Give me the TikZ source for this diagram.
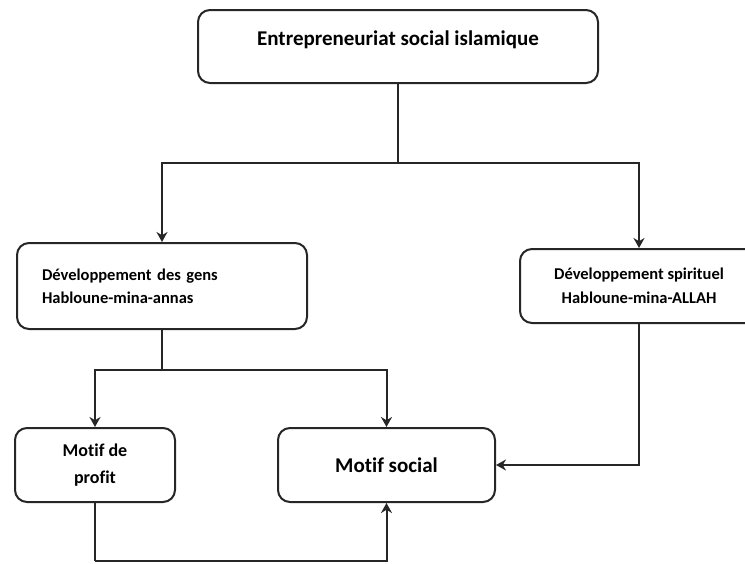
\documentclass[tikz,border=0pt]{standalone}
\usepackage{fontspec}
\setmainfont{Carlito}[Ligatures=NoCommon]
\usetikzlibrary{arrows.meta}
\usetikzlibrary{calc}

\begin{document}
\begin{tikzpicture}[x=1pt, y=-1pt, line width=2pt,
        box_style/.style={draw=black!85, rounded corners=12pt, line width=2pt, inner sep=0pt},
        edge_style/.style={draw=black!85, line width=2pt},
        arrow_style/.style={draw=black!85, line width=2pt, -{Stealth[length=10pt,width=11pt]}}]

        \useasboundingbox (0,0) rectangle (745,563);

        \node [box_style, minimum width=400pt, minimum height=73pt, text depth=16pt, font=\bfseries\fontsize{21}{25}\selectfont](n1) at (398,46.5) {Entrepreneuriat social islamique};

        \node [box_style, minimum width=290pt, minimum height=86pt, text width=240pt, align=left, font=\bfseries\fontsize{16.5}{23}\selectfont](n2) at (162,286) {Développement des gens\\Habloune-mina-annas};

        \node [box_style, minimum width=238pt, minimum height=74pt, align=center, font=\bfseries\fontsize{16.5}{24}\selectfont](n3) at (639,286) {Développement spirituel\\Habloune-mina-ALLAH};

        \node [box_style, minimum width=160pt, minimum height=74pt, align=center, font=\bfseries\fontsize{18}{27}\selectfont](n4) at (95,465) {Motif de\\profit};

        \node [box_style, minimum width=217pt, minimum height=74pt, font=\bfseries\fontsize{21}{25}\selectfont](n5) at (386.5,465) {Motif social};

        \coordinate (s1) at (398,163);
        \coordinate (s2) at (162,370);
        \coordinate (s3) at (95,561);

        \draw [edge_style] (n1) -- (s1);

        \draw [arrow_style] (s1) -| (n2);

        \draw [arrow_style] (s1) -| (n3);

        \draw [edge_style] (n2) -- (s2);

        \draw [arrow_style] (s2) -| (n4);

        \draw [arrow_style] (s2) -| (n5);

        \draw [arrow_style] (n3) |- (n5);

        \draw [edge_style] (n4) -- (s3);

        \draw [arrow_style] (s3) -| (n5);

        \end{tikzpicture}
\end{document}
